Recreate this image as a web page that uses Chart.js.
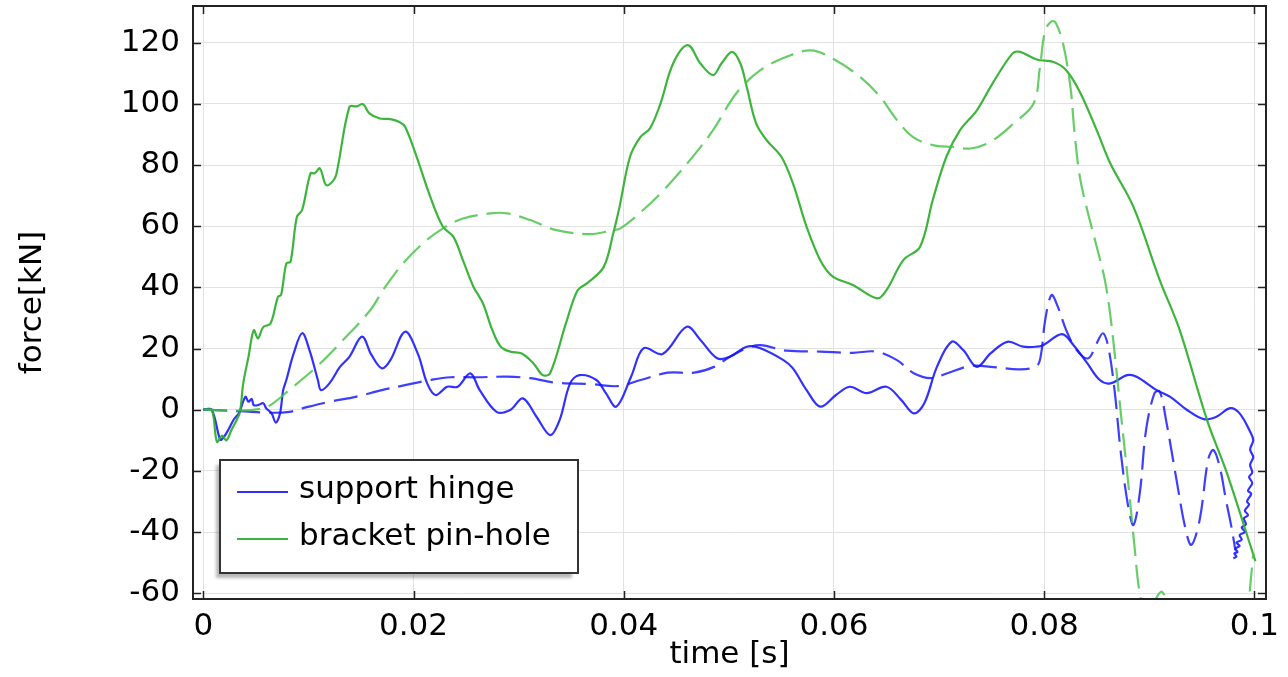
<!DOCTYPE html>
<html>
<head>
<meta charset="utf-8">
<script src="https://cdn.jsdelivr.net/npm/chart.js@4/dist/chart.umd.min.js"></script>
<style>
  html, body { margin: 0; padding: 0; background: #fff; }
  #wrap { width: 1288px; height: 677px; }
</style>
</head>
<body>
<div id="wrap"><canvas id="forceChart" width="1288" height="677"></canvas></div>
<script>
// axis ticks
const timeTicks = [0, 0.02, 0.04, 0.06, 0.08, 0.1];
const timeTickLabels = ['0', '0.02', '0.04', '0.06', '0.08', '0.1'];
const forceTicks = [-60, -40, -20, 0, 20, 40, 60, 80, 100, 120];
const forceTickLabels = ['-60', '-40', '-20', '0', '20', '40', '60', '80', '100', '120'];
const seriesNames = ['support hinge', 'bracket pin-hole'];

// support hinge, solid line (time in s, force in kN)
const hingeSolidTime = [0, 0.0008, 0.0016, 0.0019, 0.0024, 0.0029, 0.0034, 0.004, 0.0043, 0.0046, 0.0048, 0.0052,
  0.0057, 0.006, 0.0065, 0.0069, 0.0073, 0.0076, 0.0079, 0.0086, 0.0094, 0.0101, 0.0109, 0.0112, 0.012, 0.013,
  0.0139, 0.0151, 0.016, 0.017, 0.0178, 0.0192, 0.0204, 0.0213, 0.0221, 0.0232, 0.0242, 0.0254, 0.0263, 0.0279,
  0.0292, 0.0304, 0.0317, 0.033, 0.0339, 0.0349, 0.0358, 0.0374, 0.0383, 0.0393, 0.0407, 0.0419, 0.0437, 0.046,
  0.0473, 0.0489, 0.0501, 0.0517, 0.053, 0.0552, 0.0561, 0.0574, 0.0587, 0.0602, 0.0615, 0.0631, 0.065, 0.0664,
  0.0676, 0.0686, 0.0698, 0.0712, 0.0723, 0.0736, 0.0749, 0.0765, 0.078, 0.0793, 0.0799, 0.0817, 0.0828, 0.0841,
  0.0853, 0.0863, 0.0879, 0.0888, 0.0907, 0.092, 0.0936, 0.0952, 0.0964, 0.0977, 0.0986, 0.0996,
  0.0999, 0.0996, 0.0999, 0.0996, 0.0998, 0.0995, 0.0998, 0.0994, 0.0997, 0.0993, 0.0995, 0.0991, 0.0994, 0.099,
  0.0992, 0.0988, 0.0991, 0.0986, 0.0988, 0.0983, 0.0986, 0.0982, 0.0984, 0.0981, 0.0983, 0.098];
const hingeSolidForce = [0, 0, -9.8, -9.2, -6.5, -3.2, -1.1, 4.2, 2.6, 3.5, 1.5, 1.5,
  2.1, 0.4, -1.2, -4.2, -1.2, 6.4, 9.7, 18.4, 25, 19.5, 9.7, 6.4, 8.6, 14,
  17.3, 23.9, 17.9, 13.5, 16.2, 25.5, 18.4, 8.6, 4.8, 7.5, 7.5, 11.9, 6.4, -0.7,
  -0.1, 3.7, -2.3, -8.3, -3.4, 8.6, 11.3, 9.7, 5.4, 1, 10.8, 20.1, 18.2, 27.1,
  22.8, 16.8, 17.3, 20.6, 20.1, 16.2, 13.5, 6.4, 1, 4.8, 7.5, 5.4, 7.5, 3.2,
  -1.2, 2.1, 14, 22.2, 19.5, 14, 18.4, 22.2, 20.6, 20.6, 21.1, 24.7, 21.1, 15.2,
  9.7, 8.6, 11.3, 10.8, 6.4, 4.2, -0.1, -3.1, -2.3, 0.5, -1.2, -7.2,
  -10, -13, -15.5, -18, -20.5, -22, -24, -26.5, -27.5, -30, -31, -33, -34.5, -35.5,
  -37.5, -38.5, -40, -41, -42.5, -43.5, -44.5, -45.5, -46.5, -47, -48, -48.6];

// support hinge, dashed line
const hingeDashTime = [0, 0.0035, 0.0064, 0.0082, 0.0095, 0.012, 0.0145, 0.017, 0.0193, 0.0216, 0.0235, 0.026,
  0.0289, 0.0311, 0.0336, 0.0368, 0.0394, 0.0416, 0.0442, 0.0467, 0.0486, 0.0501, 0.0517, 0.053, 0.0555, 0.0587,
  0.0618, 0.064, 0.066, 0.0676, 0.0692, 0.0708, 0.073, 0.0752, 0.0777, 0.0793, 0.0797, 0.0801, 0.0807, 0.0813,
  0.0821, 0.0831, 0.0842, 0.085, 0.0856, 0.0861, 0.0867, 0.0873, 0.088, 0.0885, 0.0891, 0.0897, 0.0905, 0.091,
  0.0916, 0.0926, 0.0934, 0.094, 0.0948, 0.0956, 0.0961, 0.0967, 0.0973, 0.0978, 0.0982];
const hingeDashForce = [0, -0.5, -1, -0.7, 0.5, 2.6, 4.2, 6.4, 8.1, 9.7, 10.6, 10.6,
  10.8, 10.3, 8.8, 8.4, 7.7, 9.7, 12.1, 12.1, 14, 17.3, 20.1, 21.1, 19.3, 19,
  18.6, 19, 16.2, 11.9, 10.3, 11.9, 14.3, 13.9, 13.2, 14.3, 18, 29.3, 37.5, 33.7,
  26, 19.5, 16.8, 21.7, 25, 20.6, 6.4, -14.2, -31.7, -37.7, -27.3, -6.6, 5.4, 5.9,
  -3.4, -23, -38.2, -44.2, -36, -16.4, -13.2, -18.6, -29.5, -38, -46];

// bracket pin-hole, solid line
const bracketSolidTime = [0, 0.0008, 0.0013, 0.0018, 0.0022, 0.0027, 0.0032, 0.0035, 0.0038, 0.0043, 0.0048, 0.0052,
  0.0057, 0.0064, 0.0071, 0.0074, 0.0079, 0.0083, 0.0089, 0.0094, 0.0102, 0.0106, 0.0111, 0.0117, 0.0125, 0.0128,
  0.0139, 0.0146, 0.0152, 0.0158, 0.0168, 0.0178, 0.0187, 0.0192, 0.0203, 0.0216, 0.0228, 0.0238, 0.0247, 0.0257,
  0.0266, 0.0275, 0.0283, 0.0292, 0.0303, 0.0314, 0.0323, 0.033, 0.0345, 0.0356, 0.0365, 0.0381, 0.039, 0.0396,
  0.0406, 0.0416, 0.0425, 0.0435, 0.0447, 0.0461, 0.0473, 0.0485, 0.0493, 0.0503, 0.0511, 0.0517, 0.0526, 0.0536,
  0.055, 0.0561, 0.0574, 0.0587, 0.0599, 0.0618, 0.0641, 0.065, 0.0666, 0.0682, 0.0694, 0.0707, 0.072, 0.0736,
  0.0751, 0.077, 0.0777, 0.0793, 0.0809, 0.0821, 0.0834, 0.085, 0.0863, 0.0885, 0.091, 0.0929, 0.0955, 0.0974,
  0.1001];
const bracketSolidForce = [0, 0, -10.5, -8.5, -10, -6.5, -3.2, -0.5, 8.6, 17.3, 26, 23.3,
  27, 28.2, 36.9, 37.5, 47.8, 48.4, 63, 65.3, 77.3, 77.3, 78.9, 73.4, 75.6, 79.4,
  99, 99.2, 99.9, 96.9, 95.2, 95, 94, 92.5, 82.7, 69.6, 59.8, 56.5, 48.9, 40.2,
  34.8, 26, 20.6, 19, 18.4, 15.2, 11.3, 11.9, 28.2, 39, 41.3, 46.7, 57.6, 66.3,
  82.7, 89.2, 92, 100.1, 113.2, 119.2, 113.2, 109.4, 113.2, 117, 113.2, 105.6, 93.6, 88.1,
  82.7, 74, 59.8, 48.9, 43.5, 40.8, 36.4, 39.1, 48.9, 53.3, 68.5, 82.7, 91.4, 97.9,
  106.7, 116.5, 117, 114.5, 113.7, 111, 103.9, 91.4, 80.5, 66.3, 42.4, 26, -3.4, -20.8,
  -49.5];

// bracket pin-hole, dashed line
const bracketDashTime = [0, 0.0035, 0.0055, 0.0064, 0.0082, 0.0108, 0.0133, 0.0159, 0.0171, 0.019, 0.0209, 0.0228,
  0.0247, 0.0273, 0.0289, 0.0311, 0.0336, 0.0368, 0.039, 0.0397, 0.0415, 0.0438, 0.0463, 0.0485, 0.0507, 0.053,
  0.0555, 0.0578, 0.0599, 0.0625, 0.0644, 0.066, 0.0675, 0.0694, 0.0714, 0.073, 0.0749, 0.0771, 0.079, 0.0796,
  0.0801, 0.0807, 0.0811, 0.0818, 0.0825, 0.0829, 0.0834, 0.0841, 0.085, 0.0858, 0.0864, 0.0873, 0.0881, 0.0886,
  0.0891, 0.0898, 0.0906, 0.0912, 0.0918, 0.093, 0.0985, 0.0993, 0.0996, 0.0999];
const bracketDashForce = [0, -0.3, 0.3, 1.5, 6.5, 14.1, 22.8, 32.6, 39.1, 47.8, 54.4, 59.3,
  62.5, 64.2, 64.2, 62, 58.7, 57.4, 58.7, 59.3, 64.2, 71.8, 81.6, 91.4, 103.4, 111,
  115.4, 117.5, 114.8, 108.8, 102.3, 94.7, 89.2, 86.5, 85.9, 85.4, 87.6, 93.6, 100.1, 112,
  124, 127, 126.5, 119.7, 105.6, 90.3, 76.1, 65.3, 53.3, 42, 28, -1.2, -27.3, -44.8,
  -60, -68, -62, -59.5, -64, -75, -80, -70, -58, -47];

const BLUE = 'rgba(20, 20, 255, 0.88)';
const BLUE_DASH = 'rgba(20, 20, 255, 0.82)';
const GREEN = 'rgba(45, 175, 45, 0.92)';
const GREEN_DASH = 'rgba(70, 195, 70, 0.82)';

function toPoints(ts, fs) {
  return ts.map((t, i) => ({ x: t, y: fs[i] }));
}

// frame round the plot and inward tick marks on all four sides
const framePlugin = {
  id: 'frame',
  afterDraw(chart) {
    const { ctx, chartArea: a, scales } = chart;
    const len = 8;
    ctx.save();
    ctx.strokeStyle = '#222';
    ctx.lineWidth = 1.5;
    ctx.beginPath();
    timeTicks.forEach(v => {
      const px = Math.round(scales.x.getPixelForValue(v)) + 0.5;
      ctx.moveTo(px, a.bottom); ctx.lineTo(px, a.bottom - len);
      ctx.moveTo(px, a.top); ctx.lineTo(px, a.top + len);
    });
    forceTicks.forEach(v => {
      const py = Math.round(scales.y.getPixelForValue(v)) + 0.5;
      ctx.moveTo(a.left, py); ctx.lineTo(a.left + len, py);
      ctx.moveTo(a.right, py); ctx.lineTo(a.right - len, py);
    });
    ctx.stroke();
    ctx.lineWidth = 2;
    ctx.strokeRect(a.left, a.top, a.right - a.left, a.bottom - a.top);
    ctx.restore();
  }
};

// boxed legend with drop shadow, lower left of the plot
const boxLegend = {
  id: 'boxLegend',
  afterDraw(chart) {
    const { ctx } = chart;
    const items = seriesNames.map(n => chart.data.datasets.find(d => d.inLegend && d.label === n));
    const x = 220, y = 460, w = 358, h = 113;
    ctx.save();
    ctx.fillStyle = 'rgba(0,0,0,0.28)';
    ctx.filter = 'blur(1.5px)';
    ctx.fillRect(x - 4, y + 5, w - 2, h);
    ctx.filter = 'none';
    ctx.fillStyle = '#fff';
    ctx.fillRect(x, y, w, h);
    ctx.strokeStyle = '#333';
    ctx.lineWidth = 2;
    ctx.strokeRect(x, y, w, h);
    ctx.font = '31px "DejaVu Sans"';
    ctx.textBaseline = 'middle';
    items.forEach((d, i) => {
      const ly = 492 + i * 47;
      ctx.strokeStyle = d.borderColor;
      ctx.lineWidth = 2;
      ctx.beginPath();
      ctx.moveTo(237, ly); ctx.lineTo(288, ly);
      ctx.stroke();
      ctx.fillStyle = '#000';
      ctx.fillText(d.label, 299, ly - 2);
    });
    ctx.restore();
  }
};

Chart.defaults.font.family = '"DejaVu Sans", sans-serif';

new Chart(document.getElementById('forceChart'), {
  type: 'line',
  data: {
    datasets: [
      { label: seriesNames[1] + ' (dashed)', data: toPoints(bracketDashTime, bracketDashForce),
        borderColor: GREEN_DASH, borderDash: [24, 9], inLegend: false },
      { label: seriesNames[0] + ' (dashed)', data: toPoints(hingeDashTime, hingeDashForce),
        borderColor: BLUE_DASH, borderDash: [24, 9], inLegend: false },
      { label: seriesNames[1], data: toPoints(bracketSolidTime, bracketSolidForce),
        borderColor: GREEN, inLegend: true },
      { label: seriesNames[0], data: toPoints(hingeSolidTime, hingeSolidForce),
        borderColor: BLUE, inLegend: true }
    ].map(d => Object.assign({ borderWidth: 2.2, pointRadius: 0, tension: 0.35, fill: false }, d))
  },
  options: {
    responsive: false,
    animation: false,
    layout: { padding: { left: 0, right: 22, top: 6, bottom: 0 } },
    plugins: { legend: { display: false }, tooltip: { enabled: false } },
    scales: {
      x: {
        type: 'linear',
        min: -0.00098,
        max: 0.10111,
        afterBuildTicks: s => { s.ticks = timeTicks.map(v => ({ value: v })); },
        afterFit: s => { s.height = 78; s.paddingLeft = 0; s.paddingRight = 0; },
        grid: { color: '#e2e2e2', lineWidth: 1, drawTicks: false },
        border: { display: false },
        ticks: {
          color: '#000', padding: 9, maxRotation: 0, autoSkip: false,
          font: { size: 31 },
          callback: (v, i) => timeTickLabels[i]
        },
        title: { display: true, text: 'time [s]', color: '#000', font: { size: 31 },
          padding: { top: 0, bottom: 3 } }
      },
      y: {
        type: 'linear',
        min: -61.9,
        max: 132,
        afterBuildTicks: s => { s.ticks = forceTicks.map(v => ({ value: v })); },
        afterFit: s => { s.width = 193; s.paddingTop = 0; s.paddingBottom = 0; },
        grid: { color: '#e2e2e2', lineWidth: 1, drawTicks: false },
        border: { display: false },
        ticks: {
          color: '#000', padding: 13, autoSkip: false,
          font: { size: 31 },
          callback: (v, i) => forceTickLabels[i]
        },
        title: { display: true, text: 'force[kN]', color: '#000', font: { size: 31 },
          padding: { top: 14, bottom: 0 } }
      }
    }
  },
  plugins: [framePlugin, boxLegend]
});
</script>
</body>
</html>
